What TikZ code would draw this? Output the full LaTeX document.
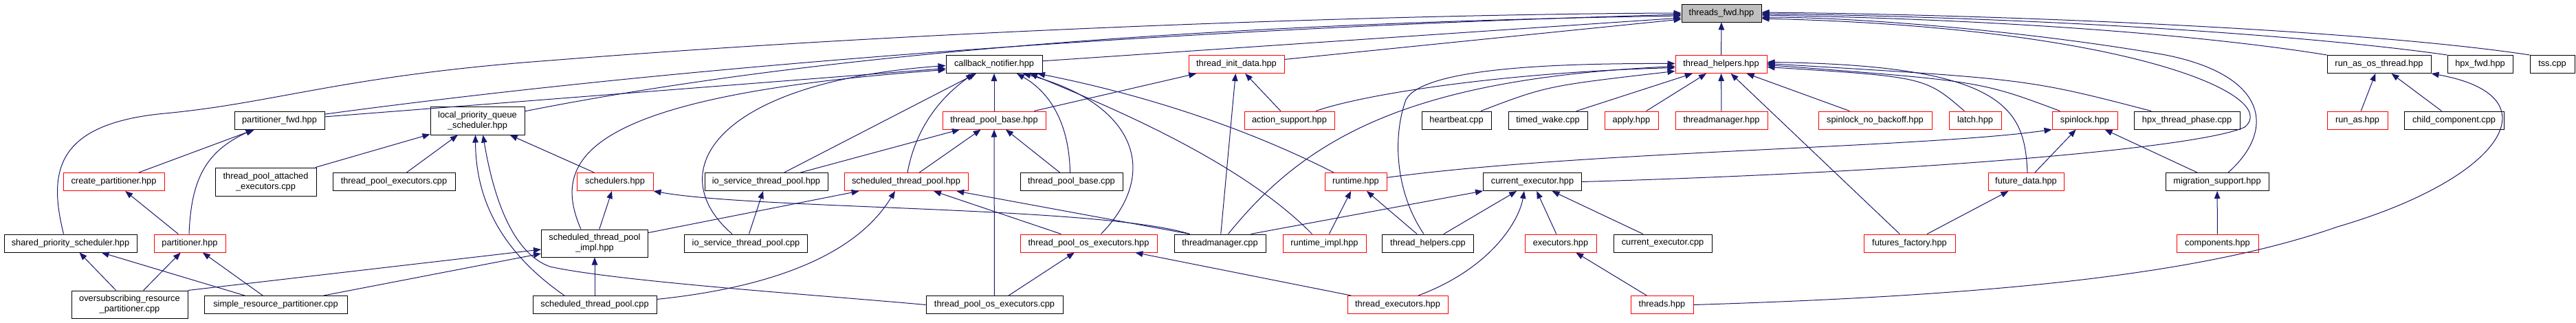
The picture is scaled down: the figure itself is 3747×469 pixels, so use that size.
\documentclass[tikz,border=0pt]{standalone}
\usepackage{fontspec}
\newfontfamily\lsans{Liberation Sans}
\usetikzlibrary{arrows.meta}
\definecolor{edgecol}{HTML}{191970}
\definecolor{nodered}{HTML}{FF0000}
\definecolor{tfgray}{HTML}{BFBFBF}
\begin{document}
\begin{tikzpicture}[x=1pt,y=-1pt,
  nbox/.style={draw=black,line width=1pt,fill=white,minimum height=26pt,inner sep=0pt,align=center,font=\lsans\fontsize{12.8}{15}\selectfont},
  rnbox/.style={nbox,draw=nodered},
  twoline/.style={minimum height=41pt},
  conn/.style={draw=edgecol,line width=1pt,-{Triangle[length=11pt,width=8.5pt]}}]
\fill[white] (0,0) rectangle (3747,469);
\useasboundingbox (0,0) rectangle (3747,469);
% row 0
\node[nbox,fill=tfgray,minimum width=116pt] (tf) at (2504,19) {threads\_fwd.hpp};
% row 1
\node[nbox,minimum width=140pt] (cb) at (1446,93.5) {callback\_notifier.hpp};
\node[rnbox,minimum width=139pt] (tid) at (1798.5,93.5) {thread\_init\_data.hpp};
\node[rnbox,minimum width=133pt] (th) at (2503.5,93.5) {thread\_helpers.hpp};
\node[nbox,minimum width=151pt] (raot) at (3460.5,93.5) {run\_as\_os\_thread.hpp};
\node[nbox,minimum width=95pt] (hfwd) at (3607.5,93.5) {hpx\_fwd.hpp};
\node[nbox,minimum width=65pt] (tss) at (3712.5,93.5) {tss.cpp};
% row 2
\node[nbox,minimum width=131pt] (pfwd) at (406.5,175) {partitioner\_fwd.hpp};
\node[nbox,twoline,minimum width=137pt] (lpqs) at (694.5,175.5) {local\_priority\_queue\\\_scheduler.hpp};
\node[rnbox,minimum width=150pt] (tpb) at (1446,175) {thread\_pool\_base.hpp};
\node[rnbox,minimum width=131pt] (as) at (1875.5,175) {action\_support.hpp};
\node[nbox,minimum width=101pt] (hb) at (2118.5,175) {heartbeat.cpp};
\node[nbox,minimum width=115pt] (tw) at (2251.5,175) {timed\_wake.cpp};
\node[rnbox,minimum width=78pt] (ap) at (2373,175) {apply.hpp};
\node[rnbox,minimum width=134pt] (tmh) at (2504,175) {threadmanager.hpp};
\node[rnbox,minimum width=165pt] (snb) at (2727.5,175) {spinlock\_no\_backoff.hpp};
\node[rnbox,minimum width=76pt] (la) at (2873,175) {latch.hpp};
\node[rnbox,minimum width=95pt] (sl) at (3032.5,175) {spinlock.hpp};
\node[nbox,minimum width=154pt] (htp) at (3181,175) {hpx\_thread\_phase.cpp};
\node[rnbox,minimum width=88pt] (ra) at (3429,175) {run\_as.hpp};
\node[nbox,minimum width=145pt] (cc) at (3569.5,175) {child\_component.cpp};
% row 3
\node[rnbox,minimum width=147pt] (cp) at (165.5,264.5) {create\_partitioner.hpp};
\node[nbox,twoline,minimum width=147pt] (tpae) at (386.5,264.5) {thread\_pool\_attached\\\_executors.cpp};
\node[nbox,minimum width=178pt] (tpe) at (573,264.5) {thread\_pool\_executors.cpp};
\node[rnbox,minimum width=111pt] (sch) at (894.5,264.5) {schedulers.hpp};
\node[nbox,minimum width=179pt] (iostp) at (1114.5,264.5) {io\_service\_thread\_pool.hpp};
\node[rnbox,minimum width=180pt] (stph) at (1318,264.5) {scheduled\_thread\_pool.hpp};
\node[nbox,minimum width=149pt] (tpbc) at (1558.5,264.5) {thread\_pool\_base.cpp};
\node[rnbox,minimum width=90pt] (rt) at (1972,264.5) {runtime.hpp};
\node[nbox,minimum width=143pt] (ce) at (2229,264.5) {current\_executor.hpp};
\node[rnbox,minimum width=110pt] (fd) at (2947,264.5) {future\_data.hpp};
\node[nbox,minimum width=150pt] (ms) at (3225,264.5) {migration\_support.hpp};
% row 4
\node[nbox,minimum width=193pt] (sps) at (102.5,354) {shared\_priority\_scheduler.hpp};
\node[rnbox,minimum width=104pt] (pa) at (276,354) {partitioner.hpp};
\node[nbox,minimum height=40pt,minimum width=155pt] (stpi) at (865,354) {scheduled\_thread\_pool\\\_impl.hpp};
\node[nbox,minimum width=179pt] (iostpc) at (1085,354) {io\_service\_thread\_pool.cpp};
\node[rnbox,minimum width=199pt] (tpoeh) at (1583.5,354) {thread\_pool\_os\_executors.hpp};
\node[nbox,minimum width=133pt] (tmc) at (1774.5,354) {threadmanager.cpp};
\node[rnbox,minimum width=121pt] (rti) at (1926.5,354) {runtime\_impl.hpp};
\node[nbox,minimum width=133pt] (thc) at (2077,354) {thread\_helpers.cpp};
\node[rnbox,minimum width=104pt] (ex) at (2270,354) {executors.hpp};
\node[nbox,minimum width=143pt] (cec) at (2418.5,354) {current\_executor.cpp};
\node[rnbox,minimum width=133pt] (ff) at (2777.5,354) {futures\_factory.hpp};
\node[rnbox,minimum width=119pt] (co) at (3225.5,354) {components.hpp};
% row 5
\node[nbox,minimum height=40pt,minimum width=169pt] (orp) at (188.5,443) {oversubscribing\_resource\\\_partitioner.cpp};
\node[nbox,minimum width=208pt] (srp) at (401,443.5) {simple\_resource\_partitioner.cpp};
\node[nbox,minimum width=180pt] (stpc) at (865,443.5) {scheduled\_thread\_pool.cpp};
\node[nbox,minimum width=199pt] (tpoec) at (1446.5,443.5) {thread\_pool\_os\_executors.cpp};
\node[rnbox,minimum width=146pt] (te) at (2033,443.5) {thread\_executors.hpp};
\node[rnbox,minimum width=91pt] (ts) at (2417.5,443.5) {threads.hpp};
% ---- edges into threads_fwd.hpp
\draw[conn] ([xshift=-10pt]sps.north) .. controls (70,250) and (80,180) .. (240,165) .. controls (400,150) and (500,110) .. (800,88) .. controls (1400,40) and (2100,20) .. (tf.west);
\draw[conn] (pfwd) .. controls (1000,95) and (1700,42) .. ([yshift=-2pt]tf.west);
\draw[conn] (lpqs) .. controls (1150,85) and (1700,35) .. ([yshift=-4pt]tf.west);
\draw[conn] (cb) -- ([yshift=-7pt]tf.west);
\draw[conn] (tid) -- ([yshift=-9pt]tf.west);
\draw[conn] (th) -- (tf);
\draw[conn] (tss.north west) .. controls (3450,45) and (2950,22) .. ([yshift=1pt]tf.east);
\draw[conn] (hfwd.north west) .. controls (3350,50) and (2950,25) .. ([yshift=-1pt]tf.east);
\draw[conn] (raot.north west) .. controls (3200,50) and (2900,28) .. ([yshift=-3pt]tf.east);
\draw[conn] ([xshift=16pt]ms.north) .. controls (3310,190) and (3300,110) .. (3150,80) .. controls (2950,45) and (2700,25) .. ([yshift=-6pt]tf.east);
\draw[conn] (ce.east) .. controls (2800,250) and (3200,215) .. (3265,185) .. controls (3320,140) and (3100,40) .. ([yshift=-8pt]tf.east);
% ---- into thread_helpers.hpp
\draw[conn] (as) .. controls (1990,135) and (2200,105) .. ([yshift=-5pt]th.west);
\draw[conn] ([xshift=12pt]tmc.north) .. controls (1900,200) and (2050,115) .. ([yshift=-3pt]th.west);
\draw[conn] ([xshift=-6pt]thc.north) .. controls (2030,280) and (2025,200) .. (2045,145) .. controls (2070,100) and (2250,92) .. ([yshift=1pt]th.west);
\draw[conn] (hb) .. controls (2250,125) .. ([yshift=-10pt]th.west);
\draw[conn] (tw) -- (th);
\draw[conn] (ap) -- (th);
\draw[conn] (tmh) -- (th);
\draw[conn] (snb) -- (th);
\draw[conn] (ff) -- (th);
\draw[conn] (la) .. controls (2800,112) .. ([yshift=-4pt]th.east);
\draw[conn] (sl) .. controls (2880,118) .. ([yshift=-1pt]th.east);
\draw[conn] (htp) .. controls (2950,115) .. ([yshift=1pt]th.east);
\draw[conn] ([xshift=2pt]fd.north) .. controls (2945,160) and (2920,95) .. ([yshift=3pt]th.east);
% ---- into thread_init_data.hpp
\draw[conn] (tpb) -- (tid);
\draw[conn] (tmc) -- (tid);
\draw[conn] (as) -- (tid);
% ---- into callback_notifier.hpp
\draw[conn] (pfwd) -- ([yshift=-6pt]cb.west);
\draw[conn] ([xshift=-20pt]stpi.north) .. controls (800,230) and (850,140) .. ([yshift=-8pt]cb.west);
\draw[conn] ([xshift=-20pt]iostpc.north) .. controls (960,250) and (1040,120) .. ([yshift=-2pt]cb.west);
\draw[conn] (iostp) -- (cb);
\draw[conn] ([xshift=2pt]stph.north) .. controls (1335,170) and (1385,130) .. ([xshift=-30pt]cb.south);
\draw[conn] (tpb) -- (cb);
\draw[conn] ([xshift=-2pt]tpbc.north) .. controls (1555,170) and (1520,130) .. ([xshift=33pt]cb.south);
\draw[conn] ([xshift=18pt]tpoeh.north) .. controls (1690,250) and (1650,150) .. ([xshift=42pt]cb.south);
\draw[conn] ([xshift=-18pt]rti.north) .. controls (1800,230) and (1600,150) .. ([xshift=52pt]cb.south);
\draw[conn] ([xshift=-32pt]rt.north) .. controls (1800,180) and (1650,135) .. ([xshift=63pt]cb.south);
% ---- into thread_pool_base.hpp
\draw[conn] (iostp) -- (tpb);
\draw[conn] (stph) -- (tpb);
\draw[conn] (tpoec) -- (tpb);
\draw[conn] (tpbc) -- (tpb);
% ---- into scheduled_thread_pool.hpp
\draw[conn] (stpi) -- (stph);
\draw[conn] ([yshift=8pt]stpc.east) .. controls (1200,410) and (1270,330) .. ([xshift=-16pt]stph.south);
\draw[conn] (tpoeh) -- (stph);
\draw[conn] ([xshift=-44pt]tmc.north) -- (stph);
% ---- into schedulers.hpp
\draw[conn] (stpi) -- (sch);
\draw[conn] ([xshift=-44pt]tmc.north) .. controls (1600,300) and (1100,305) .. (sch.south east);
% ---- into local_priority_queue_scheduler.hpp
\draw[conn] (tpae) -- (lpqs);
\draw[conn] (tpe) -- (lpqs);
\draw[conn] ([xshift=-44pt]stpc.north) .. controls (720,360) and (692,280) .. ([xshift=-3pt]lpqs.south);
\draw[conn] (tpoec.west) .. controls (1200,430) and (900,410) .. (800,388) .. controls (750,370) and (720,300) .. ([xshift=8pt]lpqs.south);
\draw[conn] (sch) -- (lpqs);
% ---- into partitioner_fwd.hpp
\draw[conn] (cp) -- (pfwd);
\draw[conn] ([xshift=-1pt]pa.north) .. controls (278,260) and (300,220) .. ([xshift=-38pt]pfwd.south);
% ---- lower left
\draw[conn] (pa) -- (cp);
\draw[conn] (orp) -- (sps);
\draw[conn] (srp) -- (sps);
\draw[conn] (orp) -- (pa);
\draw[conn] (srp) -- (pa);
\draw[conn] (orp.north east) -- (stpi);
\draw[conn] (srp) -- (stpi);
\draw[conn] (stpc) -- (stpi);
\draw[conn] (iostpc) -- (iostp);
% ---- middle
\draw[conn] (tpoec) -- (tpoeh);
\draw[conn] (te) -- (tpoeh);
\draw[conn] (rti) -- (rt);
\draw[conn] (thc) -- (rt);
\draw[conn] (rt) .. controls (2300,220) and (2800,215) .. (sl.south west);
\draw[conn] ([xshift=45pt]tmc.north) -- (ce);
\draw[conn] (thc) -- (ce);
\draw[conn] ([xshift=30pt]te.north) .. controls (2170,390) and (2210,320) .. ([xshift=-12pt]ce.south);
\draw[conn] (ex) -- (ce);
\draw[conn] (cec) -- (ce);
\draw[conn] (ts) -- (ex);
% ---- right
\draw[conn] (fd) -- (sl);
\draw[conn] (ms) -- (sl);
\draw[conn] (ff) -- (fd);
\draw[conn] (co) -- (ms);
\draw[conn] (ra) -- (raot);
\draw[conn] (cc) -- (raot);
\draw[conn] (ts.east) .. controls (2900,430) and (3200,400) .. (3400,330) .. controls (3640,260) and (3720,140) .. (raot.south east);
\end{tikzpicture}
\end{document}
